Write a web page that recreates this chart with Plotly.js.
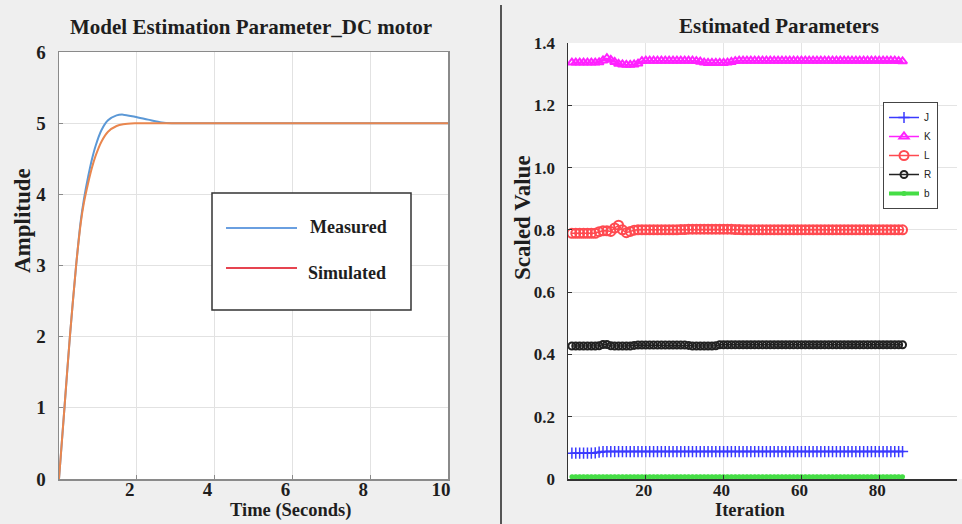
<!DOCTYPE html>
<html>
<head>
<meta charset="utf-8">
<script src="https://cdn.plot.ly/plotly-3.0.1.min.js"></script>
<style>html,body{margin:0;padding:0;background:#efefef;}#chart{width:962px;height:524px;}</style>
</head>
<body>
<div id="chart"></div>
<script>
// ---------- Left chart data ----------
const timeSec = [0, 0.14, 0.28, 0.44, 0.56, 0.64, 0.75, 0.85, 0.94, 1.09, 1.26, 1.48, 1.65, 1.95, 2.29, 2.64, 2.9, 3.2, 4, 6, 8, 10];
const measured = [0, 1.0, 2.0, 3.0, 3.63, 3.93, 4.25, 4.5, 4.68, 4.9, 5.04, 5.11, 5.12, 5.09, 5.05, 5.01, 5.0, 5.0, 5.0, 5.0, 5.0, 5.0];
const simulated = [0, 1.0, 2.0, 3.0, 3.6, 3.88, 4.16, 4.38, 4.54, 4.74, 4.88, 4.96, 4.985, 4.998, 5.0, 5.0, 5.0, 5.0, 5.0, 5.0, 5.0, 5.0];
const leftXTicks = [2, 4, 6, 8, 10];
const leftYTicks = [0, 1, 2, 3, 4, 5, 6];

// ---------- Right chart data ----------
const iteration = [1,2,3,4,5,6,7,8,9,10,11,12,13,14,15,16,17,18,19,20,21,22,23,24,25,26,27,28,29,30,31,32,33,34,35,36,37,38,39,40,41,42,43,44,45,46,47,48,49,50,51,52,53,54,55,56,57,58,59,60,61,62,63,64,65,66,67,68,69,70,71,72,73,74,75,76,77,78,79,80,81,82,83,84,85,86];
const paramJ = [0.083,0.083,0.083,0.083,0.083,0.083,0.084,0.086,0.088,0.088,0.088,0.088,0.088,0.088,0.088,0.088,0.088,0.088,0.088,0.088,0.088,0.088,0.088,0.088,0.088,0.088,0.088,0.088,0.088,0.088,0.088,0.088,0.088,0.088,0.088,0.088,0.088,0.088,0.088,0.088,0.088,0.088,0.088,0.088,0.088,0.088,0.088,0.088,0.088,0.088,0.088,0.088,0.088,0.088,0.088,0.088,0.088,0.088,0.088,0.088,0.088,0.088,0.088,0.088,0.088,0.088,0.088,0.088,0.088,0.088,0.088,0.088,0.088,0.088,0.088,0.088,0.088,0.088,0.088,0.088,0.088,0.088,0.088,0.088,0.088,0.088];
const paramK = [1.337,1.337,1.337,1.337,1.337,1.337,1.337,1.338,1.344,1.351,1.346,1.339,1.333,1.331,1.330,1.330,1.331,1.334,1.342,1.343,1.343,1.343,1.343,1.343,1.343,1.343,1.343,1.343,1.343,1.343,1.343,1.343,1.342,1.340,1.337,1.336,1.336,1.336,1.336,1.336,1.337,1.339,1.342,1.343,1.343,1.343,1.343,1.343,1.343,1.343,1.343,1.343,1.343,1.343,1.343,1.343,1.343,1.343,1.343,1.343,1.343,1.343,1.343,1.343,1.343,1.343,1.343,1.343,1.343,1.343,1.343,1.343,1.343,1.343,1.343,1.343,1.343,1.343,1.343,1.343,1.343,1.343,1.343,1.343,1.342,1.341];
const paramL = [0.789,0.789,0.789,0.789,0.789,0.789,0.789,0.794,0.797,0.797,0.795,0.806,0.815,0.800,0.791,0.795,0.799,0.800,0.800,0.800,0.800,0.800,0.800,0.800,0.800,0.800,0.800,0.800,0.801,0.801,0.802,0.802,0.802,0.802,0.802,0.802,0.802,0.802,0.802,0.802,0.802,0.802,0.801,0.801,0.800,0.800,0.800,0.800,0.800,0.800,0.800,0.800,0.800,0.800,0.800,0.800,0.800,0.800,0.800,0.800,0.800,0.800,0.800,0.800,0.800,0.800,0.800,0.800,0.800,0.800,0.800,0.800,0.800,0.800,0.800,0.800,0.800,0.800,0.800,0.800,0.800,0.800,0.800,0.800,0.800,0.800];
const paramR = [0.427,0.427,0.427,0.427,0.427,0.427,0.427,0.428,0.432,0.432,0.428,0.427,0.427,0.427,0.427,0.427,0.429,0.430,0.430,0.430,0.430,0.430,0.430,0.430,0.430,0.430,0.430,0.430,0.430,0.430,0.429,0.427,0.427,0.427,0.427,0.427,0.427,0.428,0.431,0.431,0.431,0.431,0.431,0.431,0.431,0.431,0.431,0.431,0.431,0.431,0.431,0.431,0.431,0.431,0.431,0.431,0.431,0.431,0.431,0.431,0.431,0.431,0.431,0.431,0.431,0.431,0.431,0.431,0.431,0.431,0.431,0.431,0.431,0.431,0.431,0.431,0.431,0.431,0.431,0.431,0.431,0.431,0.431,0.431,0.431,0.431];
const paramB = [0.007,0.007,0.007,0.007,0.007,0.007,0.007,0.007,0.007,0.007,0.007,0.007,0.007,0.007,0.007,0.007,0.007,0.007,0.007,0.007,0.007,0.007,0.007,0.007,0.007,0.007,0.007,0.007,0.007,0.007,0.007,0.007,0.007,0.007,0.007,0.007,0.007,0.007,0.007,0.007,0.007,0.007,0.007,0.007,0.007,0.007,0.007,0.007,0.007,0.007,0.007,0.007,0.007,0.007,0.007,0.007,0.007,0.007,0.007,0.007,0.007,0.007,0.007,0.007,0.007,0.007,0.007,0.007,0.007,0.007,0.007,0.007,0.007,0.007,0.007,0.007,0.007,0.007,0.007,0.007,0.007,0.007,0.007,0.007,0.007,0.007];
const rightXTicks = [20, 40, 60, 80, 100];
const rightYTicks = [0, 0.2, 0.4, 0.6, 0.8, 1.0, 1.2, 1.4];
const rightYTickText = ['0', '0.2', '0.4', '0.6', '0.8', '1.0', '1.2', '1.4'];

const W = 962, H = 524;
const px = v => v / W;
const py = v => 1 - v / H;
const serifBold = {family: 'Liberation Serif, Times New Roman, serif', weight: 'bold', color: '#1e1e1e'};
const f = s => Object.assign({size: s}, serifBold);

const traces = [
  {x: timeSec, y: measured, xaxis: 'x', yaxis: 'y', mode: 'lines', line: {color: '#5b98d6', width: 2, shape: 'spline', smoothing: 0.8}, showlegend: false, name: 'Measured'},
  {x: timeSec, y: simulated, xaxis: 'x', yaxis: 'y', mode: 'lines', line: {color: '#e9864e', width: 2, shape: 'spline', smoothing: 0.8}, showlegend: false, name: 'Simulated'},
  {x: iteration, y: paramJ, xaxis: 'x2', yaxis: 'y2', name: 'J', mode: 'lines+markers', line: {color: '#3a3aff', width: 1.5}, marker: {symbol: 'cross-thin-open', size: 8, color: '#3a3aff', line: {width: 1.5, color: '#3a3aff'}}},
  {x: iteration, y: paramK, xaxis: 'x2', yaxis: 'y2', name: 'K', mode: 'lines+markers', line: {color: '#ff22ff', width: 1.5}, marker: {symbol: 'triangle-up-open', size: 8, color: '#ff22ff', line: {width: 2, color: '#ff22ff'}}},
  {x: iteration, y: paramL, xaxis: 'x2', yaxis: 'y2', name: 'L', mode: 'lines+markers', line: {color: '#ff4a50', width: 1.5}, marker: {symbol: 'circle-open', size: 9, color: '#ff4a50', line: {width: 2, color: '#ff4a50'}}},
  {x: iteration, y: paramR, xaxis: 'x2', yaxis: 'y2', name: 'R', mode: 'lines+markers', line: {color: '#222', width: 1.5}, marker: {symbol: 'circle-open', size: 7, color: '#222', line: {width: 2, color: '#222'}}},
  {x: iteration, y: paramB, xaxis: 'x2', yaxis: 'y2', name: 'b', mode: 'lines+markers', line: {color: '#45dd45', width: 4}, marker: {symbol: 'circle', size: 5, color: '#45dd45'}}
];

const ann = (text, x, y, size, extra) => Object.assign({text: text, xref: 'paper', yref: 'paper', x: px(x), y: py(y), xanchor: 'center', yanchor: 'middle', showarrow: false, font: f(size)}, extra || {});

const layout = {
  width: W, height: H,
  margin: {l: 0, r: 0, t: 0, b: 0},
  paper_bgcolor: '#efefef',
  plot_bgcolor: '#ffffff',
  showlegend: true,
  xaxis: {domain: [px(59), px(448)], range: [0, 10], tickvals: leftXTicks, ticktext: leftXTicks.map(String),
    tickfont: f(19), showgrid: true, gridcolor: '#e2e2e2', zeroline: false,
    showline: true, linecolor: '#8a8a8a', linewidth: 1.5, mirror: true, ticks: 'inside', ticklen: 4, tickcolor: '#8a8a8a',
    ticklabelstandoff: -7, ticklabelshift: -7},
  yaxis: {domain: [py(479), py(52)], range: [0, 6], tickvals: leftYTicks, ticktext: leftYTicks.map(String),
    tickfont: f(19), showgrid: true, gridcolor: '#e2e2e2', zeroline: false,
    showline: true, linecolor: '#8a8a8a', linewidth: 1.5, mirror: true, ticks: 'inside', ticklen: 4, tickcolor: '#8a8a8a', ticklabelstandoff: 8},
  xaxis2: {domain: [px(568), px(957)], range: [0, 100], anchor: 'y2', tickvals: rightXTicks, ticktext: rightXTicks.map(String),
    tickfont: f(17), showgrid: true, gridcolor: '#e4e4e4', zeroline: false,
    showline: true, linecolor: '#333', linewidth: 1.5, ticks: 'inside', ticklen: 4, tickcolor: '#333',
    ticklabelstandoff: -5, ticklabelshift: -2},
  yaxis2: {domain: [py(479), py(43)], range: [0, 1.4], anchor: 'x2', tickvals: rightYTicks, ticktext: rightYTickText,
    tickfont: f(17), showgrid: true, gridcolor: '#e4e4e4', zeroline: false,
    showline: true, linecolor: '#333', linewidth: 1.5, ticks: 'inside', ticklen: 4, tickcolor: '#333', ticklabelstandoff: 8},
  legend: {x: px(883), y: py(102), xanchor: 'left', yanchor: 'top', bgcolor: '#ffffff', bordercolor: '#444', borderwidth: 1,
    font: {family: 'Liberation Sans, Arial, sans-serif', size: 10, color: '#222'}, tracegroupgap: 0, itemwidth: 30},
  shapes: [
    {type: 'rect', xref: 'paper', yref: 'paper', x0: px(212), x1: px(411), y0: py(310), y1: py(193), line: {color: '#333', width: 1.5}, fillcolor: '#ffffff'},
    {type: 'line', xref: 'paper', yref: 'paper', x0: px(226), x1: px(297), y0: py(228), y1: py(228), line: {color: '#6a9fe0', width: 2}},
    {type: 'line', xref: 'paper', yref: 'paper', x0: px(226), x1: px(297), y0: py(268), y1: py(268), line: {color: '#e64450', width: 2}},
    {type: 'line', xref: 'paper', yref: 'paper', x0: px(501), x1: px(501), y0: 0, y1: py(5), line: {color: '#555', width: 2}},
    {type: 'rect', xref: 'paper', yref: 'paper', x0: px(957), x1: 1, y0: py(479), y1: py(43), line: {width: 0}, fillcolor: '#ffffff', layer: 'below'}
  ],
  annotations: [
    ann('Model Estimation Parameter_DC motor', 251, 27, 21),
    ann('Amplitude', 22, 221, 23, {textangle: -90}),
    ann('Time (Seconds)', 290, 510, 18.5),
    ann('Measured', 308, 227, 18, {xanchor: 'left'}),
    ann('Simulated', 306, 273, 18, {xanchor: 'left'}),
    ann('Estimated Parameters', 779, 26, 21),
    ann('Scaled Value', 523, 218, 23, {textangle: -90}),
    ann('Iteration', 750, 510, 18.5)
  ]
};

Plotly.newPlot('chart', traces, layout, {displayModeBar: false, staticPlot: true});
</script>
</body>
</html>
